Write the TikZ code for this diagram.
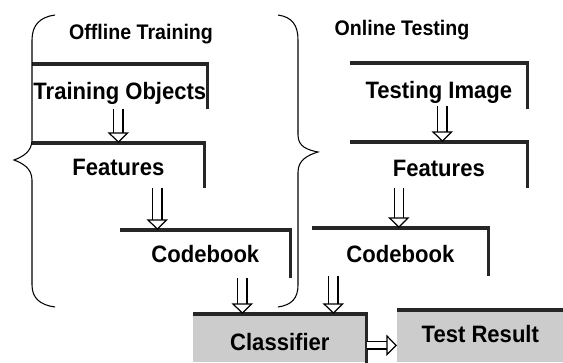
\documentclass[tikz,border=0pt]{standalone}
\usepackage{fontspec}
\setmainfont{Liberation Sans}[FakeStretch=0.93]
\usetikzlibrary{arrows.meta}

\begin{document}
\begin{tikzpicture}[x=0.02cm,y=-0.02cm,
  stage/.style={anchor=north west,inner sep=0pt,text depth=2.5pt,text height=12pt,
    font=\fontsize{13.5}{15}\selectfont\bfseries},
  shaded/.style={stage,fill=black!20},
  title/.style={font=\fontsize{12}{14}\selectfont\bfseries},
  edge/.style={draw=black!85,line width=1.8pt},
  hollow/.style={double,double distance=4.5pt,line width=0.7pt,
    -{Triangle[open,length=6pt 0,width=12pt 0]}},
  brace/.style={line width=0.6pt}]
\useasboundingbox (0,0) rectangle (563,362);
%titles
\node[title] (offline) at (141,34) {Offline Training};
\node[title] (online)  at (402,30) {Online Testing};
%training boxes
\node[stage,minimum width=3.5cm,minimum height=0.88cm,text height=17pt]  (trainobj)  at (32,64)   {Training Objects};
\node[stage,minimum width=3.44cm,minimum height=0.88cm,text height=13.7pt] (trainfeat) at (32,143)  {Features};
\node[stage,minimum width=3.4cm,minimum height=0.94cm]  (traincode) at (120,230) {Codebook};
%testing boxes
\node[stage,minimum width=3.54cm,minimum height=0.9cm,text height=16.5pt]  (testimg)  at (350,63)  {Testing Image};
\node[stage,minimum width=3.54cm,minimum height=0.9cm,text height=15.4pt]  (testfeat) at (350,142) {Features};
\node[stage,minimum width=3.52cm,minimum height=0.94cm,text height=14.3pt] (testcode) at (312,228) {Codebook};
%output boxes
\node[shaded,minimum width=3.46cm,minimum height=0.96cm,text height=16pt] (classifier) at (193,314) {Classifier};
\node[shaded,minimum width=3.32cm,minimum height=1.04cm,text height=9.2pt] (result)     at (397,310) {Test Result};
%edges
\foreach \n in {trainobj,trainfeat,traincode,testimg,testfeat,testcode,classifier}
  \draw[edge] (\n.north west) -- (\n.north east) -- (\n.south east);
\draw[edge] (result.north west) -- (result.north east);
%braces
\draw[brace] (55,15) .. controls (40,17) and (32,25) .. (32,40) -- (32,140)
  .. controls (32,152) and (22,157) .. (14,160) .. controls (22,163) and (32,168) .. (32,180)
  -- (32,285) .. controls (32,298) and (40,305) .. (55,307);
\draw[brace] (278,15) .. controls (292,17) and (298,25) .. (298,40) -- (298,135)
  .. controls (298,147) and (308,150) .. (318,152) .. controls (308,155) and (298,160) .. (298,172)
  -- (298,285) .. controls (298,298) and (292,305) .. (278,307);
%arrows
\draw[hollow] ([xshift=-0.03cm]trainobj.south) -- ([xshift=-0.03cm]trainobj.south |- trainfeat.north);
\draw[hollow] ([xshift=0.78cm]trainfeat.south) -- ([xshift=0.78cm]trainfeat.south |- traincode.north);
\draw[hollow] ([xshift=0.74cm]traincode.south) -- ([xshift=0.74cm]traincode.south |- classifier.north);
\draw[hollow] ([xshift=-1.34cm]testcode.south) -- ([xshift=-1.34cm]testcode.south |- classifier.north);
\draw[hollow] ([xshift=0.07cm,yshift=0.06cm]testimg.south) -- ([xshift=0.07cm]testimg.south |- testfeat.north);
\draw[hollow] ([xshift=-0.8cm]testfeat.south) -- ([xshift=-0.8cm]testfeat.south |- testcode.north);
\draw[hollow,double distance=3.5pt] ([yshift=-0.14cm]classifier.east) -- ([yshift=-0.14cm]classifier.east -| result.west);
\end{tikzpicture}
\end{document}
